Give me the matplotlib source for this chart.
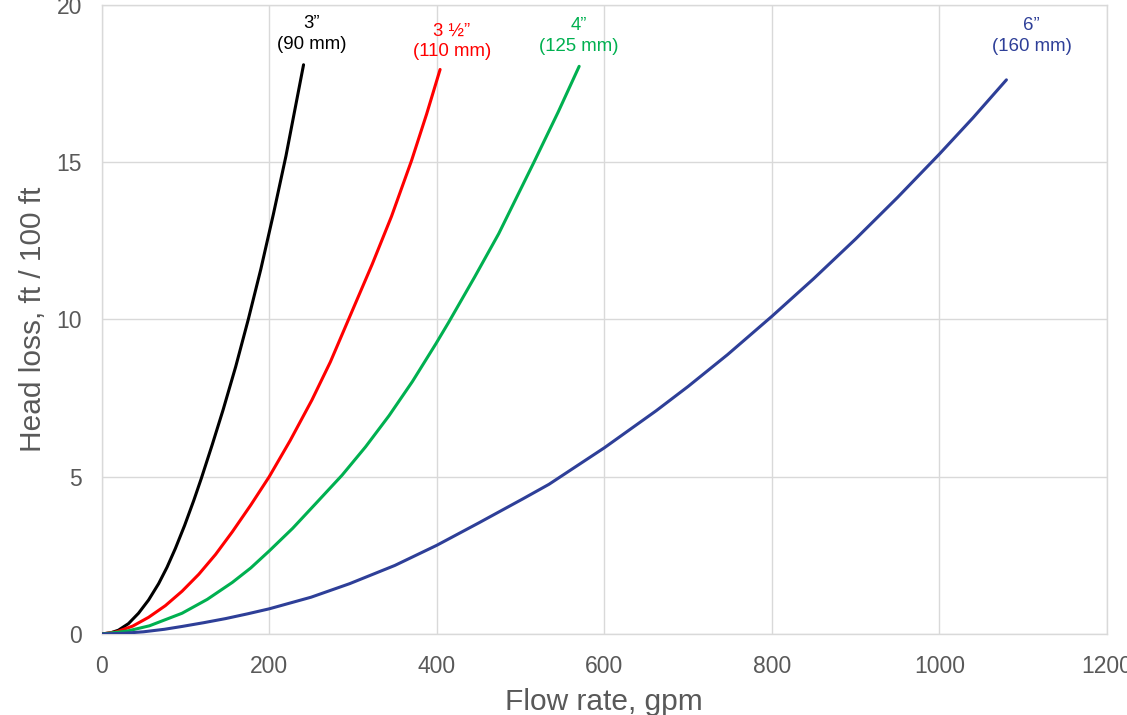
import matplotlib
matplotlib.use("Agg")
import matplotlib.pyplot as plt

plt.rcParams['font.family'] = ['Liberation Sans', 'DejaVu Sans']

# Portata (gpm) e perdita di carico (ft / 100 ft).
flow_3in = [0, 10, 20, 32, 44, 56, 68, 78, 88, 99, 110, 119, 132, 145, 160, 175, 190, 205, 220, 241]
loss_3in = [0, 0.03, 0.12, 0.33, 0.66, 1.08, 1.6, 2.12, 2.72, 3.45, 4.25, 4.95, 6.02, 7.13, 8.5, 10.0, 11.6, 13.35, 15.2, 18.1]

flow_35in = [0, 18, 37, 56, 76, 96, 116, 136, 156, 178, 200, 225, 251, 273, 295, 323, 346, 370, 388, 404]
loss_35in = [0, 0.07, 0.25, 0.53, 0.9, 1.36, 1.9, 2.53, 3.25, 4.1, 5.0, 6.15, 7.44, 8.65, 10.02, 11.76, 13.28, 15.06, 16.54, 17.95]

flow_4in = [0, 30, 57, 96, 126, 156, 178, 200, 228, 256, 287, 315, 343, 371, 399, 414, 445, 474, 516, 545, 570]
loss_4in = [0, 0.09, 0.26, 0.66, 1.1, 1.64, 2.1, 2.64, 3.36, 4.16, 5.05, 5.95, 6.94, 8.03, 9.23, 9.9, 11.34, 12.73, 15.0, 16.6, 18.05]

flow_6in = [0, 25, 50, 75, 96, 122, 148, 174, 200, 250, 296, 350, 400, 450, 503, 534, 600, 662, 700, 747, 800, 850, 900, 950, 1000, 1040, 1080]
loss_6in = [0, 0.02, 0.07, 0.15, 0.24, 0.36, 0.49, 0.64, 0.8, 1.17, 1.6, 2.18, 2.82, 3.53, 4.3, 4.76, 5.92, 7.1, 7.87, 8.88, 10.1, 11.3, 12.56, 13.88, 15.26, 16.41, 17.62]

labels = ["3\u201d\n(90 mm)", "3 \u00bd\u201d\n(110 mm)", "4\u201d\n(125 mm)", "6\u201d\n(160 mm)"]
label_pos = [(251, 19.08), (418, 18.84), (570, 19.02), (1110, 19.02)]
colors = ["#000000", "#FF0000", "#00B050", "#2E3F98"]

series = [(flow_3in, loss_3in), (flow_35in, loss_35in), (flow_4in, loss_4in), (flow_6in, loss_6in)]

grey = "#595959"
grid = "#D9D9D9"

fig = plt.figure(figsize=(11.27, 7.15), dpi=100)
ax = fig.add_axes([0.0902, 0.1133, 0.892, 0.8797])

for (x, y), c in zip(series, colors):
    ax.plot(x, y, color=c, lw=2.2, solid_capstyle='round', solid_joinstyle='round', zorder=3)

for txt, (px, py), c in zip(labels, label_pos, colors):
    ax.text(px, py, txt, ha='center', va='center', color=c, fontsize=13.4, linespacing=1.3)

ax.set_xlim(0, 1200)
ax.set_ylim(0, 20)
ax.set_xticks(range(0, 1201, 200))
ax.set_yticks(range(0, 21, 5))
ax.grid(True, color=grid, lw=1.0, zorder=0)
ax.set_axisbelow(True)
for s in ax.spines.values():
    s.set_color(grid)
    s.set_linewidth(1.0)
ax.tick_params(length=0, labelsize=16.5, labelcolor=grey)
ax.tick_params(axis='x', pad=15)
ax.tick_params(axis='y', pad=14)

ax.set_xlabel("Flow rate, gpm", fontsize=21.5, color=grey)
ax.set_ylabel("Head loss, ft / 100 ft", fontsize=21.5, color=grey, va='center')
ax.xaxis.set_label_coords(0.5, -0.086)
ax.yaxis.set_label_coords(-0.068, 0.5)

fig.savefig("out.png", dpi=100)
